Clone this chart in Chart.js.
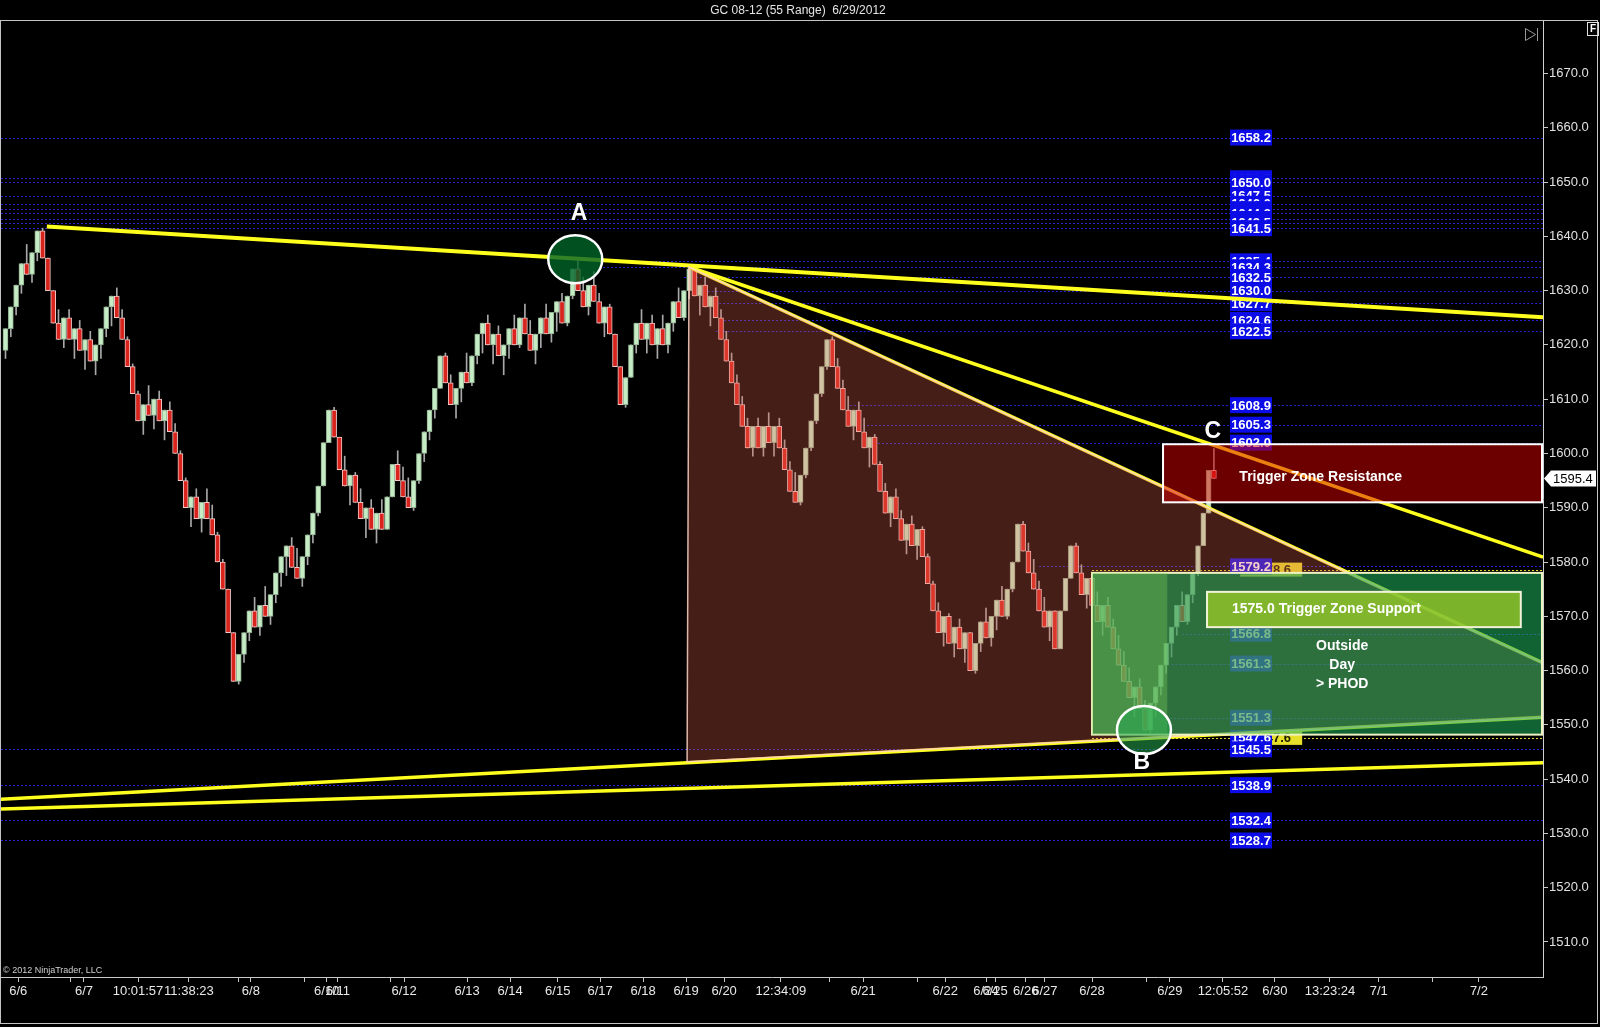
<!DOCTYPE html>
<html>
<head>
<meta charset="utf-8">
<title>GC 08-12 (55 Range) 6/29/2012</title>
<script src="https://cdn.jsdelivr.net/npm/chart.js@4.4.1/dist/chart.umd.min.js"></script>
<style>
  html, body { margin: 0; background: #000; }
  canvas { display: block; }
</style>
</head>
<body>
<canvas id="gcChart" width="1600" height="1027"></canvas>
<script>
const FONT = 'Arial, "Liberation Sans", sans-serif';

// velas 55 range: precio de cierre de cada barra
const RANGE = 5.5;
const firstOpen = 1619;
const closes = [
  1623, 1627, 1631, 1635, 1633, 1637, 1641, 1636, 1630, 1624,
  1621, 1625, 1621, 1623, 1619, 1621, 1617, 1620, 1623, 1627,
  1629, 1625, 1621, 1616, 1611, 1606, 1609, 1607, 1610, 1606,
  1608, 1604, 1600, 1595, 1590, 1592, 1588, 1591, 1588, 1585,
  1580, 1575, 1567, 1558, 1563, 1567, 1571, 1568, 1572, 1570,
  1574, 1578, 1581, 1583, 1579, 1577, 1581, 1585, 1589, 1594,
  1602, 1608, 1603, 1597, 1594, 1596, 1591, 1588, 1590, 1586,
  1589, 1586, 1592, 1598, 1595, 1592, 1590, 1595, 1600, 1604,
  1608, 1612, 1618, 1613, 1609, 1612, 1615, 1613, 1618, 1622,
  1624, 1620, 1622, 1618, 1620, 1623, 1620, 1625, 1622, 1619,
  1622, 1625, 1622, 1626, 1628, 1624, 1629, 1634, 1630, 1627,
  1631, 1628, 1624, 1627, 1622, 1616, 1609, 1614, 1620, 1624,
  1621, 1624, 1620, 1623, 1620, 1624, 1628, 1625, 1630, 1634,
  1629, 1631, 1627, 1629, 1625, 1621, 1617, 1613, 1609, 1605,
  1601, 1605, 1601, 1605, 1602, 1605, 1601, 1597, 1593, 1591,
  1596, 1601, 1606, 1611, 1616, 1621, 1616, 1612, 1608, 1605,
  1608, 1604, 1601, 1603, 1598, 1593, 1589, 1592, 1588, 1584,
  1587, 1583, 1586, 1581, 1576, 1571, 1567, 1570, 1565, 1568,
  1564, 1567, 1560, 1565, 1569, 1566, 1570, 1573, 1570, 1575,
  1580, 1587, 1582, 1578, 1575, 1571, 1568, 1571, 1564, 1571,
  1577, 1583, 1578, 1574, 1577, 1572, 1569, 1572, 1568, 1564,
  1561, 1558, 1555, 1557, 1553, 1549, 1554, 1557, 1561, 1565,
  1568, 1572, 1569, 1574, 1578, 1583, 1589, 1596.9, 1595.4
];

// eje x (indice de barra) y sus etiquetas
const X_MIN = -0.85;
const X_MAX = 290.09;
const xTickPos = [2.4, 12.2, 14.8, 25.0, 34.6, 43.9, 46.3, 56.5, 60.6, 62.7,
  72.7, 75.2, 87.1, 95.2, 104.2, 112.2, 120.3, 128.4, 135.6, 146.3,
  155.4, 161.8, 172.0, 177.3, 185.0, 186.7, 192.5, 196.1, 205.0, 215.2,
  219.7, 229.7, 239.5, 249.9, 259.1, 269.3, 278.0];
const xTickText = ['6/6', '', '6/7', '10:01:57', '11:38:23', '', '6/8', '', '6/10', '6/11',
  '', '6/12', '6/13', '6/14', '6/15', '6/17', '6/18', '6/19', '6/20', '12:34:09',
  '', '6/21', '', '6/22', '6/24', '6/25', '6/26', '6/27', '6/28', '',
  '6/29', '12:05:52', '6/30', '13:23:24', '7/1', '', '7/2'];

// eje y (precio)
const Y_MIN = 1503.55;
const Y_MAX = 1679.67;
const yTicks = [1510, 1520, 1530, 1540, 1550, 1560, 1570, 1580, 1590, 1600, 1610, 1620, 1630, 1640, 1650, 1660, 1670];

// niveles horizontales azules y barra donde empiezan
const levels = [1658.2, 1650.7, 1650.0, 1647.5, 1646.0, 1645.0, 1644.3, 1643.2, 1642.5, 1641.5,
  1635.4, 1634.3, 1632.5, 1630.0, 1627.7, 1624.6, 1622.5, 1608.9, 1605.3, 1602.0,
  1579.2, 1566.8, 1561.3, 1551.3, 1547.6, 1545.5, 1538.9, 1532.4, 1528.7];
const levelStart = [-1, -1, -1, -1, -1, -1, -1, -1, -1, -1,
  112, 112, 128, 132.5, 133.9, 134.8, 134, 159.3, 161.8, 163.1,
  195, 222, 220, 216, 205, -1, -1, -1, -1];
const levelLabelIdx = 235;
const yellowLevels = [1578.6, 1547.6];
const yellowStart = 205;
const yellowLabelIdx = 238.8;

// lineas de tendencia [barra, precio]
const trendTop = [[7.8, 1641.8], [290.1, 1625.1]];
const trendUpperDiag = [[128.96, 1634.35], [290.1, 1580.9]];
const trendLowerDiag = [[128.96, 1634.35], [290.1, 1561.4]];
const trendBottomA = [[-1.04, 1536.3], [290.1, 1551.4]];
const trendBottomB = [[-1.04, 1534.5], [290.1, 1543.0]];

// zonas dibujadas [barra ini, barra fin, precio alto, precio bajo]
const triangle = [[128.96, 1634.35], [128.6, 1543.2], [309.9, 1552.4]];
const dayZone = [205.0, 290.1, 1578.0, 1548.2];
const dayInner = [205.0, 219.2, 1578.0, 1548.2];
const resistZone = [218.4, 290.1, 1601.7, 1591.0];
const supportBox = [226.7, 285.9, 1574.5, 1568.0];
const circleA = [107.5, 1635.8];
const circleB = [214.8, 1549.05];
const lastPrice = 1595.4;

// armar velas
const wicks = [];
const bodies = [];
const bodyFill = [];
const bodyLine = [];
closes.forEach((c, i) => {
  const o = i === 0 ? firstOpen : closes[i - 1];
  const up = c >= o;
  const hi = up ? c : Math.max(o, c + RANGE);
  const lo = up ? Math.min(o, c - RANGE) : c;
  wicks.push({ x: i, y: [lo, hi] });
  bodies.push({ x: i, y: [Math.min(o, c), Math.max(o, c)] });
  bodyFill.push(up ? '#c6ecc6' : '#d8241c');
  bodyLine.push(up ? '#8fae8f' : '#f2c8c8');
});

const trendSet = (pts, width) => ({
  type: 'line',
  data: pts.map(p => ({ x: p[0], y: p[1] })),
  borderColor: '#ffff1e',
  borderWidth: width,
  pointRadius: 0,
  fill: false,
  order: 1
});

const drawings = {
  id: 'drawings',
  beforeDatasetsDraw(chart) {
    const { ctx, chartArea: a, scales: { x, y } } = chart;
    ctx.save();
    ctx.beginPath();
    ctx.rect(a.left, a.top, a.right - a.left, a.bottom - a.top);
    ctx.clip();

    // lineas azules punteadas
    ctx.lineWidth = 1;
    ctx.setLineDash([2, 2]);
    ctx.strokeStyle = '#2424d6';
    levels.forEach((lv, k) => {
      const yy = Math.round(y.getPixelForValue(lv)) + 0.5;
      ctx.beginPath();
      ctx.moveTo(Math.max(a.left, x.getPixelForValue(levelStart[k])), yy);
      ctx.lineTo(a.right, yy);
      ctx.stroke();
    });
    ctx.strokeStyle = '#e8dc3a';
    yellowLevels.forEach(lv => {
      const yy = Math.round(y.getPixelForValue(lv)) + 0.5;
      ctx.beginPath();
      ctx.moveTo(x.getPixelForValue(yellowStart), yy);
      ctx.lineTo(a.right, yy);
      ctx.stroke();
    });
    ctx.setLineDash([]);

    // etiquetas de precio
    ctx.font = 'bold 13px ' + FONT;
    ctx.textAlign = 'center';
    ctx.textBaseline = 'middle';
    yellowLevels.forEach(lv => {
      const cx = x.getPixelForValue(yellowLabelIdx);
      const cy = y.getPixelForValue(lv);
      ctx.fillStyle = '#e6e02a';
      ctx.fillRect(cx - 31, cy - 7, 62, 14);
      ctx.fillStyle = '#202000';
      ctx.fillText(lv.toFixed(1), cx, cy + 1);
    });
    levels.forEach(lv => {
      const cx = x.getPixelForValue(levelLabelIdx);
      const cy = y.getPixelForValue(lv);
      ctx.fillStyle = '#0c0ce6';
      ctx.fillRect(cx - 21, cy - 8, 42, 16);
      ctx.fillStyle = '#ffffff';
      ctx.fillText(lv.toFixed(1), cx, cy + 1);
    });
    ctx.restore();
  },
  afterDatasetsDraw(chart) {
    const { ctx, chartArea: a, scales: { x, y } } = chart;
    const rect = (z, fill, stroke, lw) => {
      const x0 = x.getPixelForValue(z[0]);
      const x1 = Math.min(x.getPixelForValue(z[1]), a.right - 1);
      const y0 = y.getPixelForValue(z[2]);
      const y1 = y.getPixelForValue(z[3]);
      ctx.fillStyle = fill;
      ctx.fillRect(x0, y0, x1 - x0, y1 - y0);
      if (stroke) {
        ctx.strokeStyle = stroke;
        ctx.lineWidth = lw;
        ctx.strokeRect(x0, y0, x1 - x0, y1 - y0);
      }
    };
    ctx.save();
    ctx.beginPath();
    ctx.rect(a.left, a.top, a.right - a.left, a.bottom - a.top);
    ctx.clip();

    // triangulo
    ctx.beginPath();
    triangle.forEach((p, k) => {
      const px = x.getPixelForValue(p[0]);
      const py = y.getPixelForValue(p[1]);
      if (k === 0) ctx.moveTo(px, py); else ctx.lineTo(px, py);
    });
    ctx.closePath();
    ctx.fillStyle = 'rgba(230,100,80,0.3)';
    ctx.fill();
    ctx.strokeStyle = 'rgba(255,214,200,0.85)';
    ctx.lineWidth = 1.5;
    ctx.stroke();

    // zonas
    rect(dayZone, 'rgba(30,170,90,0.58)', '#eef2c0', 2);
    rect(dayInner, 'rgba(120,210,90,0.35)', null, 0);
    rect(supportBox, 'rgba(150,200,40,0.8)', '#f2f2d8', 2);
    rect(resistZone, 'rgba(215,0,0,0.5)', '#ffffff', 2);

    // circulos
    const ell = (c, fill) => {
      ctx.beginPath();
      ctx.ellipse(x.getPixelForValue(c[0]), y.getPixelForValue(c[1]), 27, 24, 0, 0, Math.PI * 2);
      ctx.fillStyle = fill;
      ctx.fill();
      ctx.strokeStyle = '#ffffff';
      ctx.lineWidth = 2.5;
      ctx.stroke();
    };
    ell(circleA, 'rgba(0,100,40,0.8)');
    ell(circleB, 'rgba(40,170,80,0.55)');

    // textos
    ctx.fillStyle = '#ffffff';
    ctx.textBaseline = 'middle';
    ctx.textAlign = 'center';
    ctx.font = 'bold 23px ' + FONT;
    ctx.fillText('A', x.getPixelForValue(108.2), y.getPixelForValue(1644.1));
    ctx.fillText('B', x.getPixelForValue(214.4), y.getPixelForValue(1543.0));
    ctx.fillText('C', x.getPixelForValue(227.8), y.getPixelForValue(1604.1));
    ctx.font = 'bold 14px ' + FONT;
    ctx.fillText('Outside', x.getPixelForValue(252.2), y.getPixelForValue(1564.5));
    ctx.fillText('Day', x.getPixelForValue(252.2), y.getPixelForValue(1561.0));
    ctx.fillText('> PHOD', x.getPixelForValue(252.2), y.getPixelForValue(1557.5));
    ctx.textAlign = 'left';
    ctx.fillText('Trigger Zone Resistance', x.getPixelForValue(232.8), y.getPixelForValue(1595.6));
    ctx.fillText('1575.0 Trigger Zone Support', x.getPixelForValue(231.4), y.getPixelForValue(1571.3));
    ctx.restore();
  },
  afterDraw(chart) {
    const { ctx, scales: { y } } = chart;
    ctx.save();
    // titulo
    ctx.fillStyle = '#e4e4e4';
    ctx.font = '12px ' + FONT;
    ctx.textAlign = 'center';
    ctx.textBaseline = 'middle';
    ctx.fillText('GC 08-12 (55 Range)  6/29/2012', 798, 11);

    // marco
    ctx.strokeStyle = '#c4c4c4';
    ctx.lineWidth = 1;
    ctx.strokeRect(0.5, 20.5, 1597, 1003);

    // copyright
    ctx.font = '9px ' + FONT;
    ctx.textAlign = 'left';
    ctx.fillStyle = '#d0d0d0';
    ctx.fillText('\u00a9 2012 NinjaTrader, LLC', 3, 971);

    // boton F e icono
    ctx.strokeStyle = '#e0e0e0';
    ctx.strokeRect(1587.5, 22.5, 11, 13);
    ctx.font = 'bold 10px ' + FONT;
    ctx.fillStyle = '#ffffff';
    ctx.textAlign = 'center';
    ctx.fillText('F', 1593, 29.5);
    ctx.strokeStyle = '#9a9a9a';
    ctx.beginPath();
    ctx.moveTo(1525.5, 28.5);
    ctx.lineTo(1535.5, 34.5);
    ctx.lineTo(1525.5, 40.5);
    ctx.closePath();
    ctx.moveTo(1537.5, 28);
    ctx.lineTo(1537.5, 41);
    ctx.stroke();

    // marcador de ultimo precio
    const py = y.getPixelForValue(lastPrice);
    ctx.beginPath();
    ctx.moveTo(1544, py);
    ctx.lineTo(1551, py - 8);
    ctx.lineTo(1596, py - 8);
    ctx.lineTo(1596, py + 8);
    ctx.lineTo(1551, py + 8);
    ctx.closePath();
    ctx.fillStyle = '#ffffff';
    ctx.fill();
    ctx.fillStyle = '#000000';
    ctx.font = '13px ' + FONT;
    ctx.textAlign = 'left';
    ctx.fillText(lastPrice.toFixed(1), 1553, py + 1);
    ctx.restore();
  }
};

Chart.defaults.font.family = FONT;

new Chart(document.getElementById('gcChart').getContext('2d'), {
  type: 'bar',
  data: {
    datasets: [
      trendSet(trendTop, 4),
      trendSet(trendUpperDiag, 3.5),
      trendSet(trendLowerDiag, 3.5),
      trendSet(trendBottomA, 3.5),
      trendSet(trendBottomB, 3.5),
      {
        type: 'bar',
        data: bodies,
        backgroundColor: bodyFill,
        borderColor: bodyLine,
        borderWidth: 1,
        borderSkipped: false,
        barThickness: 5,
        grouped: false,
        order: 2
      },
      {
        type: 'bar',
        data: wicks,
        backgroundColor: '#a8a8a8',
        barThickness: 1,
        grouped: false,
        order: 3
      }
    ]
  },
  options: {
    responsive: false,
    devicePixelRatio: 1,
    animation: false,
    events: [],
    layout: { padding: { top: 21, left: 1, right: 0, bottom: 0 } },
    plugins: {
      legend: { display: false },
      tooltip: { enabled: false }
    },
    scales: {
      x: {
        type: 'linear',
        min: X_MIN,
        max: X_MAX,
        bounds: 'data',
        offset: false,
        afterBuildTicks: s => { s.ticks = xTickPos.map(v => ({ value: v })); },
        afterFit: s => { s.height = 50; },
        ticks: {
          autoSkip: false,
          maxRotation: 0,
          minRotation: 0,
          color: '#e8e8e8',
          font: { size: 13 },
          padding: 2,
          callback: (v, i) => xTickText[i]
        },
        grid: { drawOnChartArea: false, offset: false, tickLength: 5, color: '#c8c8c8' },
        border: { display: true, color: '#c8c8c8' }
      },
      y: {
        type: 'linear',
        position: 'right',
        min: Y_MIN,
        max: Y_MAX,
        bounds: 'data',
        beginAtZero: false,
        afterBuildTicks: s => { s.ticks = yTicks.map(v => ({ value: v })); },
        afterFit: s => { s.width = 57; },
        ticks: {
          color: '#e0e0e0',
          font: { size: 13 },
          padding: 1,
          callback: v => Number(v).toFixed(1)
        },
        grid: { drawOnChartArea: false, tickLength: 5, color: '#c8c8c8' },
        border: { display: true, color: '#d0d0d0' }
      }
    }
  },
  plugins: [drawings]
});
</script>
</body>
</html>
